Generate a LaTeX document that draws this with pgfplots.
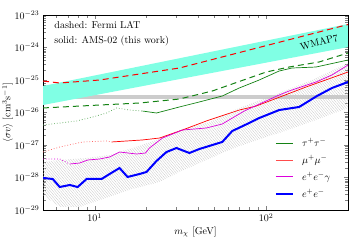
\documentclass[border=0pt]{standalone}
\usepackage{pgfplots}
\pgfplotsset{compat=1.18}
\usetikzlibrary{patterns.meta}
\definecolor{wmap}{RGB}{128,255,228}
\definecolor{tauc}{RGB}{20,130,20}
\definecolor{eegc}{RGB}{220,0,220}
\begin{document}
\begin{tikzpicture}
\path[use as bounding box] (-43pt,-30pt) rectangle (317pt,210pt);
\begin{axis}[
  at={(0pt,0pt)}, anchor=south west,
  scale only axis, width=305pt, height=195pt,
  xmode=log, ymode=log,
  xmin=5, xmax=300, ymin=1e-29, ymax=1e-23,
  xlabel={$m_\chi$ [GeV]},
  ylabel={$\langle\sigma v\rangle$ [cm$^3$s$^{-1}$]},
  xlabel style={yshift=2pt},
  ylabel shift=-5pt,
  legend style={draw=none, fill=none, at={(0.75,0.39)}, anchor=north west, row sep=3.5pt},
  legend cell align=left,
]
% thermal relic band
\addplot[draw=none, fill=gray!40, forget plot] coordinates {(5,2.6e-26) (300,2.6e-26) (300,3.46e-26) (5,3.46e-26)} -- cycle;
% WMAP7 band
\addplot[draw=none, fill=wmap, forget plot] coordinates {(5,6.54e-26) (300,5.29e-24) (300,1.03e-24) (5,1.70e-26)} -- cycle;
% hatched region
\addplot[draw=none, pattern={Lines[angle=-50,distance=2pt,line width=0.3pt]}, pattern color=gray!45, forget plot] coordinates {
 (5,3.0e-28) (6.26,3.46e-28) (8.98,3.98e-28) (12.22,4.93e-28) (16.63,8.09e-28) (22.94,1.43e-27) (31.2,2.89e-27) (46.63,5.10e-27) (69.66,1.38e-26) (119.0,3.98e-26) (185.1,1.0e-25) (300,3.34e-25)
 (300,1.38e-26) (195.3,5.88e-27) (119.0,2.34e-27) (69.66,9.32e-28) (40.78,2.79e-28) (31.2,1.48e-28) (23.88,7.27e-29) (16.63,4.43e-29) (10.69,2.03e-29) (8.18,1.24e-29) (6.26,1.24e-29) (5,2.89e-29)
} -- cycle;
% Fermi dashed
\addplot[red, line width=1pt, dash pattern=on 6pt off 4pt, forget plot] coordinates {
 (5,9.32e-26) (6.26,8.09e-26) (10.69,1.0e-25) (18.26,1.53e-25) (31.2,2.34e-25) (300,5.1e-24)};
\addplot[tauc, line width=1pt, dash pattern=on 6pt off 4pt, forget plot] coordinates {
 (5,1.38e-26) (10.69,1.70e-26) (18.26,1.96e-26) (31.2,2.60e-26) (48.53,4.59e-26) (76.5,1.07e-25) (100,1.76e-25) (136.1,2.51e-25) (203.3,3.58e-25) (300,6.77e-25)};
% tau dotted + solid
\addplot[tauc!70, line width=0.7pt, dash pattern=on 0.8pt off 2pt, forget plot] coordinates {
 (5,4.12e-27) (6.26,4.75e-27) (7.86,5.48e-27) (9.74,7.27e-27) (11.74,9.66e-27) (13.43,1.38e-26) (15.98,1.19e-26) (19.01,1.11e-26)};
\addplot[tauc, line width=0.7pt, forget plot] coordinates {
 (19.01,1.11e-26) (22.94,9.66e-27) (31.2,1.48e-26) (40.78,2.11e-26) (55.48,3.22e-26) (69.66,5.68e-26) (91.06,1.0e-25) (119.0,1.89e-25) (141.6,2.34e-25) (195.3,2.51e-25) (300,4.12e-25)};
% mu dotted + solid
\addplot[red!60, line width=0.7pt, dash pattern=on 0.8pt off 2pt, forget plot] coordinates {
 (5,6.09e-28) (6.26,8.68e-28) (8.51,1.24e-27) (11.74,1.33e-27) (12.56,1.24e-27)};
\addplot[red, line width=0.7pt, forget plot] coordinates {
 (12.56,1.24e-27) (19.01,1.43e-27) (23.88,1.64e-27) (32.48,2.89e-27) (44.79,5.48e-27) (69.66,1.19e-26) (87.48,1.58e-26) (170.8,6.09e-26) (300,1.76e-25)};
% e+e-gamma dotted + solid
\addplot[eegc, line width=0.7pt, dash pattern=on 0.8pt off 2pt, forget plot] coordinates {
 (5,3.71e-28) (6.26,3.71e-28) (7.16,2.60e-28)};
\addplot[eegc, line width=0.7pt, forget plot] coordinates {
 (7.16,2.60e-28) (8.18,2.79e-28) (9.11,3.46e-28) (10.69,3.71e-28) (12.22,4.28e-28) (13.97,6.09e-28) (17.55,5.29e-28) (19.8,5.68e-28) (20.88,8.09e-28) (24.85,1.64e-27) (32.48,2.89e-27) (44.79,3.34e-27) (55.48,4.43e-27) (74.5,1.11e-26) (119.0,3.46e-26) (136.1,4.59e-26) (195.3,8.68e-26) (242.0,1.43e-25) (300,2.89e-25)};
% e+e- thick blue
\addplot[blue, line width=2pt, forget plot] coordinates {
 (5,9.66e-29) (5.70,9.00e-29) (6.26,5.10e-29) (7.16,5.88e-29) (7.96,5.10e-29) (8.98,9.00e-29) (10.98,9.0e-29) (12.22,1.28e-28) (13.97,1.96e-28) (15.56,1.04e-28) (18.26,1.28e-28) (20.06,1.48e-28) (22.94,3.22e-28) (26.22,6.09e-28) (29.99,8.09e-28) (35.67,5.68e-28) (40.78,7.54e-28) (55.48,1.24e-27) (63.44,2.70e-27) (79.62,4.75e-27) (91.06,6.77e-27) (119.0,1.19e-26) (155.6,1.48e-26) (197.9,3.22e-26) (242.0,5.68e-26) (300,8.68e-26)};
% legend
\addlegendimage{tauc, line width=0.7pt}
\addlegendentry{\hspace{6pt}$\tau^+\tau^-$}
\addlegendimage{red!70, line width=0.7pt}
\addlegendentry{\hspace{6pt}$\mu^+\mu^-$}
\addlegendimage{eegc, line width=0.7pt}
\addlegendentry{\hspace{6pt}$e^+e^-\gamma$}
\addlegendimage{blue, line width=2pt}
\addlegendentry{\hspace{6pt}$e^+e^-$}
% texts
\node[anchor=west] at (rel axis cs:0.026,0.949) {dashed: Fermi LAT};
\node[anchor=west] at (rel axis cs:0.026,0.867) {solid: AMS-02 (this work)};
\node[rotate=14] at (rel axis cs:0.905,0.86) {WMAP7};
\node[anchor=south east, font=\scriptsize, inner sep=1pt] at (rel axis cs:1,1) {Bergstr\"om \textit{et al.} (2013)};
\end{axis}
\end{tikzpicture}
\end{document}
